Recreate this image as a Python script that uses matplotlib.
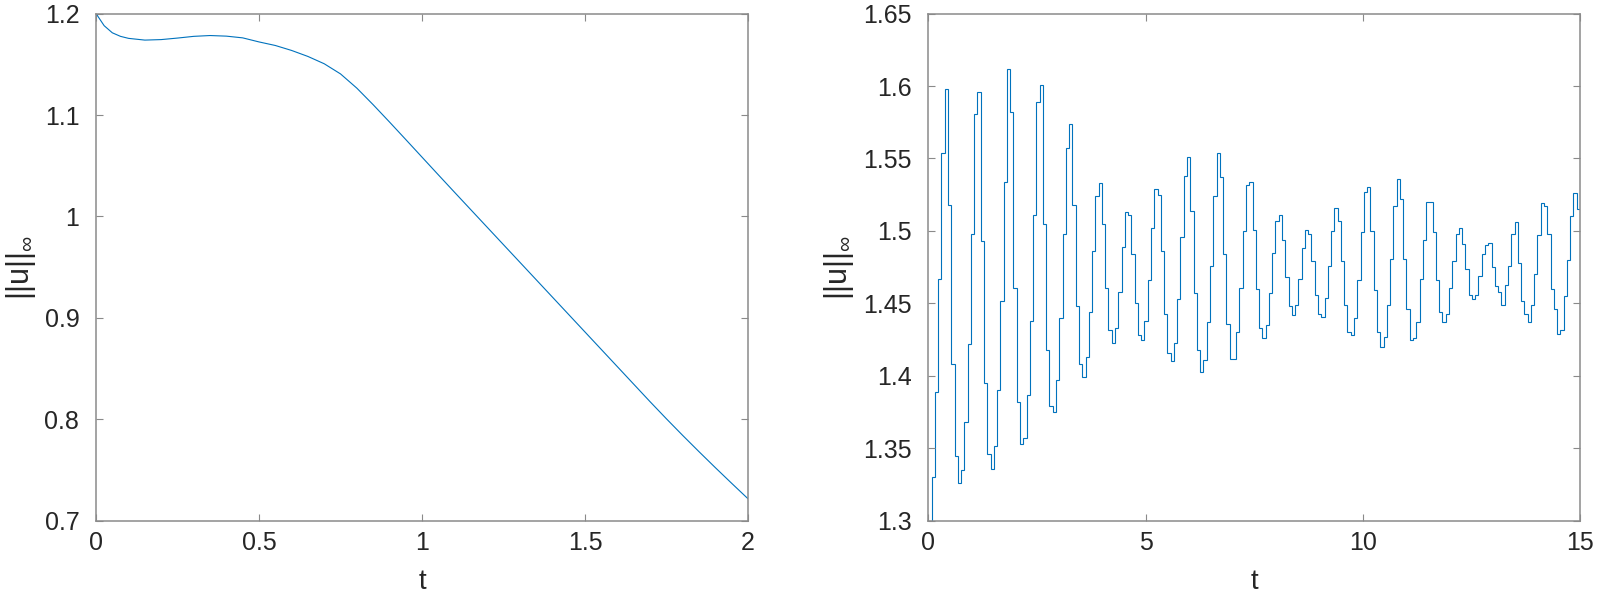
import numpy as np
import matplotlib
matplotlib.use("Agg")
import matplotlib.pyplot as plt
from matplotlib.ticker import FormatStrFormatter

plt.rcParams['font.family'] = ['Liberation Sans', 'DejaVu Sans']
plt.rcParams['mathtext.fontset'] = 'custom'
plt.rcParams['mathtext.rm'] = 'Liberation Sans'

# left panel: smooth decay
t_left = [0.000, 0.025, 0.05, 0.075, 0.10, 0.15, 0.20, 0.25, 0.30, 0.35, 0.40, 0.45,
          0.50, 0.55, 0.60, 0.65, 0.70, 0.75, 0.80, 0.85, 0.90, 0.95,
          1.00, 1.05, 1.10, 1.15, 1.20, 1.25, 1.30, 1.35, 1.40, 1.45,
          1.50, 1.55, 1.60, 1.65, 1.70, 1.75, 1.80, 1.85, 1.90, 1.95, 2.00]
u_left = [1.2000, 1.1880, 1.1810, 1.1775, 1.1755, 1.1738, 1.1743, 1.1758, 1.1775, 1.1783, 1.1777, 1.1760,
          1.1720, 1.1685, 1.1636, 1.1577, 1.1505, 1.1405, 1.1265, 1.1102, 1.0932, 1.0759,
          1.0585, 1.0411, 1.0238, 1.0066, 0.9894, 0.9722, 0.9550, 0.9378, 0.9206, 0.9034,
          0.8862, 0.8690, 0.8518, 0.8346, 0.8174, 0.8006, 0.7842, 0.7682, 0.7525, 0.7371, 0.7219]

# right panel: piecewise-constant values, one per time step on [0, 15]
t_right_end = 15
u_right = [
    1.300, 1.330, 1.389, 1.467, 1.554, 1.598, 1.518, 1.408, 1.345, 1.326,
    1.335, 1.368, 1.422, 1.498, 1.581, 1.596, 1.493, 1.395, 1.346, 1.336,
    1.352, 1.390, 1.452, 1.534, 1.612, 1.582, 1.461, 1.382, 1.353, 1.357,
    1.387, 1.438, 1.511, 1.589, 1.601, 1.505, 1.418, 1.379, 1.375, 1.397,
    1.440, 1.498, 1.557, 1.574, 1.518, 1.448, 1.408, 1.399, 1.413, 1.444,
    1.486, 1.524, 1.533, 1.505, 1.461, 1.432, 1.423, 1.433, 1.458, 1.489,
    1.513, 1.511, 1.484, 1.450, 1.428, 1.425, 1.438, 1.466, 1.502, 1.529,
    1.525, 1.486, 1.443, 1.416, 1.410, 1.423, 1.453, 1.496, 1.538, 1.551,
    1.514, 1.457, 1.418, 1.403, 1.411, 1.437, 1.476, 1.524, 1.554, 1.537,
    1.484, 1.436, 1.412, 1.412, 1.430, 1.461, 1.500, 1.532, 1.534, 1.501,
    1.460, 1.433, 1.426, 1.435, 1.457, 1.485, 1.507, 1.511, 1.494, 1.468,
    1.448, 1.442, 1.449, 1.467, 1.488, 1.501, 1.498, 1.479, 1.456, 1.443,
    1.441, 1.454, 1.476, 1.500, 1.516, 1.507, 1.479, 1.449, 1.430, 1.428,
    1.440, 1.466, 1.499, 1.527, 1.530, 1.500, 1.459, 1.430, 1.420, 1.427,
    1.449, 1.481, 1.517, 1.536, 1.522, 1.481, 1.446, 1.425, 1.426, 1.437,
    1.467, 1.494, 1.520, 1.520, 1.499, 1.466, 1.444, 1.437, 1.443, 1.461,
    1.479, 1.498, 1.502, 1.491, 1.474, 1.456, 1.453, 1.456, 1.469, 1.484,
    1.490, 1.492, 1.475, 1.462, 1.458, 1.449, 1.463, 1.476, 1.498, 1.506,
    1.478, 1.452, 1.443, 1.437, 1.449, 1.470, 1.497, 1.519, 1.517, 1.498,
    1.460, 1.446, 1.429, 1.432, 1.455, 1.480, 1.510, 1.526, 1.515,
]

line_color = '#0072BD'
axis_color = '#8a8a8a'
text_color = '#262626'

fig = plt.figure(figsize=(16, 5.95), dpi=100)
ax1 = fig.add_axes([0.060, 0.1244, 0.4075, 0.8529])
ax2 = fig.add_axes([0.5802, 0.1244, 0.4073, 0.8529])

ax1.plot(t_left, u_left, color=line_color, lw=0.8)
edges = np.linspace(0, t_right_end, len(u_right) + 1)
ax2.stairs(u_right, edges, baseline=None, color=line_color, lw=0.8)

ax1.set_xlim(0, 2)
ax1.set_ylim(0.7, 1.2)
ax1.set_xticks([0, 0.5, 1, 1.5, 2])
ax1.set_yticks([0.7, 0.8, 0.9, 1.0, 1.1, 1.2])

ax2.set_xlim(0, 15)
ax2.set_ylim(1.3, 1.65)
ax2.set_xticks([0, 5, 10, 15])
ax2.set_yticks([1.3, 1.35, 1.4, 1.45, 1.5, 1.55, 1.6, 1.65])

for ax in (ax1, ax2):
    ax.xaxis.set_major_formatter(FormatStrFormatter('%g'))
    ax.yaxis.set_major_formatter(FormatStrFormatter('%g'))
    ax.tick_params(direction='in', top=True, right=True, length=5, width=0.8,
                   color=axis_color, labelcolor=text_color, labelsize=18)
    ax.tick_params(axis='y', pad=12)
    ax.tick_params(axis='x', pad=7)
    for s in ax.spines.values():
        s.set_color(axis_color)
        s.set_linewidth(1.1)
    ax.set_xlabel('t', fontsize=20, color=text_color, labelpad=10)
    ax.set_ylabel(r'$||\mathrm{u}||_{\infty}$', fontsize=22, color=text_color, labelpad=5)

fig.savefig('out.png', dpi=100)
